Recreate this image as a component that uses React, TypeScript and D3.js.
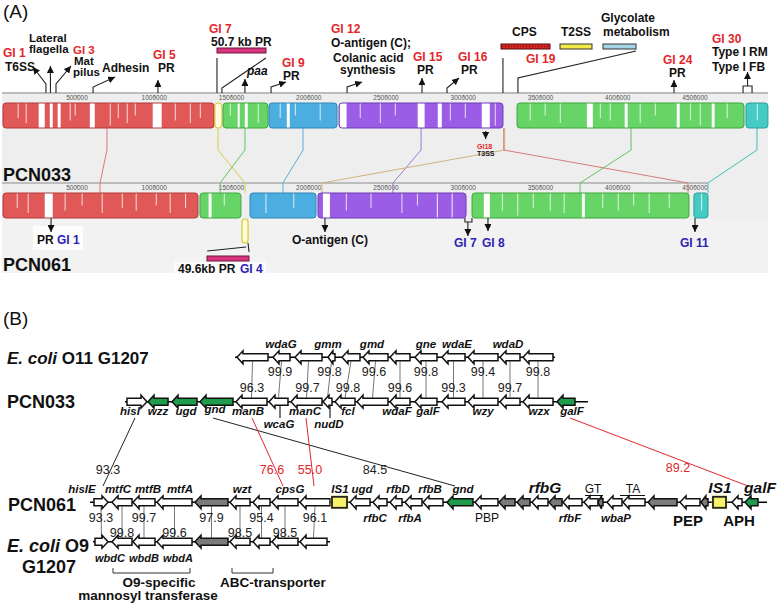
import React from "react";
import * as d3 from "d3";

// ================= PANEL A DATA (genome coordinates, bp) =================
const rulerTicks = [500000, 1000000, 1500000, 2000000, 2500000, 3000000, 3500000, 4000000, 4500000];

const pcn033Blocks = [
  { lcb: "red", start: 21000, end: 1387000 },
  { lcb: "yellow", start: 1393000, end: 1438000 },
  { lcb: "green", start: 1445000, end: 1736000 },
  { lcb: "blue", start: 1743000, end: 2183000 },
  { lcb: "purple", start: 2196000, end: 3257000 },
  { lcb: "green2", start: 3348000, end: 4817000 },
  { lcb: "teal", start: 4830000, end: 4972000 },
];
const pcn061Blocks = [
  { lcb: "red", start: 21000, end: 1283000 },
  { lcb: "green", start: 1296000, end: 1561000 },
  { lcb: "blue", start: 1620000, end: 2047000 },
  { lcb: "purple", start: 2060000, end: 3018000 },
  { lcb: "green2", start: 3057000, end: 4461000 },
  { lcb: "teal", start: 4493000, end: 4584000 },
];
const pcn061Inverted = [{ lcb: "yellow", start: 1568000, end: 1607000 }];

// LCB anchor pairs (PCN033 bp -> PCN061 bp)
const lcbLinks = [
  { lcb: "red", a: 694000, b: 649000 },
  { lcb: "yellow", a: 1413000, b: 1587000 },
  { lcb: "green", a: 1587000, b: 1426000 },
  { lcb: "blue", a: 1963000, b: 1833000 },
  { lcb: "purple", a: 2727000, b: 2545000 },
  { lcb: "tan", a: 3268000, b: 2086000 },
  { lcb: "red", a: 3262000, b: 4455000 },
  { lcb: "green2", a: 4086000, b: 3756000 },
  { lcb: "teal", a: 4901000, b: 4584000 },
];

// similarity-profile drops (bp start, bp length, depth 0..1)
const pcn033Drops = [
  [252000, 39000, 1], [324000, 19000, 1], [375000, 19000, 1], [583000, 32000, 1], [990000, 58000, 1],
  [1540000, 13000, 1], [1586000, 19000, 1], [1858000, 19000, 1], [2200000, 45000, 1], [2705000, 45000, 1],
  [2835000, 26000, 1], [3120000, 52000, 1], [3800000, 39000, 1], [4045000, 19000, 1], [4382000, 19000, 1],
  [4608000, 19000, 1], [4820000, 12000, 1],
  [116000, 6000, 0.6], [168000, 6000, 0.8], [453000, 6000, 0.7], [485000, 6000, 0.5], [712000, 6000, 0.9],
  [764000, 6000, 0.6], [822000, 6000, 0.8], [874000, 6000, 0.5], [1133000, 6000, 0.7], [1230000, 6000, 0.8],
  [1295000, 6000, 0.6], [1489000, 6000, 0.5], [1670000, 6000, 0.8], [1812000, 6000, 0.6], [1910000, 6000, 0.5],
  [2071000, 6000, 0.7], [2330000, 6000, 0.6], [2460000, 6000, 0.8], [2557000, 6000, 0.5], [2913000, 6000, 0.7],
  [3010000, 6000, 0.6], [3204000, 6000, 0.9], [3430000, 6000, 0.7], [3527000, 6000, 0.5], [3625000, 6000, 0.8],
  [3884000, 6000, 0.6], [3948000, 6000, 0.7], [4142000, 6000, 0.8], [4240000, 6000, 0.5], [4467000, 6000, 0.7],
  [4531000, 6000, 0.9], [4705000, 6000, 0.6], [4900000, 6000, 0.7],
];
const pcn061Drops = [
  [291000, 52000, 1], [1352000, 19000, 1], [2092000, 45000, 1], [2829000, 6000, 1], [2925000, 6000, 1],
  [3133000, 39000, 1], [3768000, 19000, 1], [4478000, 13000, 1],
  [110000, 6000, 0.6], [181000, 6000, 0.8], [420000, 6000, 0.7], [530000, 6000, 0.5], [660000, 6000, 0.8],
  [790000, 6000, 0.6], [880000, 6000, 0.7], [1010000, 6000, 0.5], [1100000, 6000, 0.8], [1200000, 6000, 0.6],
  [1450000, 6000, 0.5], [1720000, 6000, 0.8], [1900000, 6000, 0.6], [2240000, 6000, 0.7], [2400000, 6000, 0.6],
  [2600000, 6000, 0.8], [2700000, 6000, 0.5], [3250000, 6000, 0.7], [3350000, 6000, 0.9], [3450000, 6000, 0.6],
  [3560000, 6000, 0.7], [3650000, 6000, 0.8], [3900000, 6000, 0.6], [4000000, 6000, 0.7], [4100000, 6000, 0.5],
  [4200000, 6000, 0.8], [4330000, 6000, 0.6], [4540000, 6000, 0.7],
];

// ================= PANEL B DATA (kb) =================
const o11Genes = [
  { name: "", start: 14.7, end: 17.8, strand: -1, kind: "white" },
  { name: "wdaG", start: 18.3, end: 20.0, strand: -1, kind: "white" },
  { name: "", start: 20.5, end: 23.2, strand: -1, kind: "white" },
  { name: "gmm", start: 23.8, end: 24.5, strand: -1, kind: "white" },
  { name: "", start: 25.2, end: 27.0, strand: -1, kind: "white" },
  { name: "gmd", start: 27.3, end: 29.8, strand: -1, kind: "white" },
  { name: "", start: 30.0, end: 32.0, strand: -1, kind: "white" },
  { name: "gne", start: 32.5, end: 34.7, strand: -1, kind: "white" },
  { name: "wdaE", start: 35.2, end: 37.5, strand: -1, kind: "white" },
  { name: "", start: 37.8, end: 40.8, strand: -1, kind: "white" },
  { name: "wdaD", start: 41.0, end: 43.0, strand: -1, kind: "white" },
  { name: "", start: 43.3, end: 46.3, strand: -1, kind: "white" },
];
const o11Span = [14.5, 46.5];
const o11Labels = [
  { text: "wdaG", at: 19.1 }, { text: "gmm", at: 23.8 }, { text: "gmd", at: 28.2 },
  { text: "gne", at: 33.6 }, { text: "wdaE", at: 36.7 }, { text: "wdaD", at: 41.8 },
];

const pcn033Genes = [
  { name: "hisI", start: 3.7, end: 5.7, strand: 1, kind: "white" },
  { name: "wzz", start: 5.8, end: 7.8, strand: -1, kind: "green" },
  { name: "ugd", start: 8.2, end: 10.7, strand: -1, kind: "green" },
  { name: "gnd", start: 11.0, end: 14.3, strand: -1, kind: "green" },
  { name: "manB", start: 14.6, end: 17.7, strand: -1, kind: "white" },
  { name: "wcaG", start: 17.9, end: 19.8, strand: -1, kind: "white" },
  { name: "manC", start: 20.1, end: 23.2, strand: -1, kind: "white" },
  { name: "nudD", start: 23.3, end: 24.2, strand: -1, kind: "white" },
  { name: "fcl", start: 24.5, end: 26.5, strand: -1, kind: "white" },
  { name: "", start: 26.7, end: 29.8, strand: -1, kind: "white" },
  { name: "wdaF", start: 30.0, end: 32.0, strand: -1, kind: "white" },
  { name: "galF", start: 32.5, end: 34.7, strand: -1, kind: "white" },
  { name: "", start: 35.2, end: 37.5, strand: -1, kind: "white" },
  { name: "wzy", start: 37.8, end: 40.8, strand: -1, kind: "white" },
  { name: "", start: 41.0, end: 43.0, strand: -1, kind: "white" },
  { name: "wzx", start: 43.3, end: 46.3, strand: -1, kind: "white" },
  { name: "galF", start: 46.7, end: 48.5, strand: -1, kind: "green" },
];
const pcn033Span = [3.5, 49.8];
// indices of PCN033 genes matched to O11 genes
const o11Match = [4, 5, 6, 7, 8, 9, 10, 11, 12, 13, 14, 15];
const o11Identity = [96.3, 99.9, 99.7, 99.8, 99.8, 99.6, 99.6, 99.8, 99.3, 99.4, 99.7, 99.8];

const pcn033Labels = [
  { text: "hisI", at: 4.0, row: 0 }, { text: "wzz", at: 6.8, row: 0 }, { text: "ugd", at: 9.6, row: 0 },
  { text: "gnd", at: 12.5, row: -1 }, { text: "manB", at: 15.8, row: 0 }, { text: "wcaG", at: 18.9, row: 1 },
  { text: "manC", at: 21.5, row: 0 }, { text: "nudD", at: 23.9, row: 1 }, { text: "fcl", at: 25.8, row: 0 },
  { text: "wdaF", at: 30.7, row: 0 }, { text: "galF", at: 33.8, row: 0 }, { text: "wzy", at: 39.3, row: 0 },
  { text: "wzx", at: 44.9, row: 0 }, { text: "galF", at: 48.2, row: 0 },
];
const pcn033Leaders = [19.0, 24.0];

const pcn061Genes = [
  { name: "hisIE", start: 0.4, end: 1.8, strand: 1, kind: "white" },
  { name: "mtfC", start: 2.2, end: 4.2, strand: -1, kind: "white" },
  { name: "mtfB", start: 4.3, end: 6.5, strand: -1, kind: "white" },
  { name: "mtfA", start: 6.7, end: 10.2, strand: -1, kind: "white" },
  { name: "", start: 10.5, end: 13.8, strand: -1, kind: "gray" },
  { name: "wzt", start: 14.0, end: 16.0, strand: -1, kind: "white" },
  { name: "", start: 16.3, end: 18.0, strand: -1, kind: "white" },
  { name: "cpsG", start: 18.2, end: 20.8, strand: -1, kind: "white" },
  { name: "", start: 21.0, end: 24.0, strand: -1, kind: "white" },
  { name: "IS1", start: 24.2, end: 25.7, strand: 0, kind: "is" },
  { name: "ugd", start: 26.0, end: 28.0, strand: -1, kind: "white" },
  { name: "rfbC", start: 28.3, end: 29.7, strand: -1, kind: "white" },
  { name: "rfbD", start: 30.0, end: 31.2, strand: -1, kind: "white" },
  { name: "rfbA", start: 31.5, end: 33.2, strand: -1, kind: "white" },
  { name: "rfbB", start: 33.3, end: 35.3, strand: -1, kind: "white" },
  { name: "gnd", start: 35.7, end: 38.3, strand: -1, kind: "green" },
  { name: "PBP", start: 38.5, end: 40.8, strand: -1, kind: "white" },
  { name: "", start: 40.9, end: 42.5, strand: -1, kind: "gray" },
  { name: "", start: 42.7, end: 44.0, strand: -1, kind: "gray" },
  { name: "", start: 44.2, end: 45.8, strand: -1, kind: "white" },
  { name: "", start: 45.9, end: 47.2, strand: -1, kind: "gray" },
  { name: "rfbF", start: 47.3, end: 49.2, strand: -1, kind: "white" },
  { name: "GT", start: 49.4, end: 50.8, strand: -1, kind: "white" },
  { name: "", start: 50.8, end: 51.3, strand: -1, kind: "gray" },
  { name: "wbaP", start: 51.7, end: 53.2, strand: -1, kind: "white" },
  { name: "TA", start: 53.3, end: 55.5, strand: -1, kind: "white" },
  { name: "", start: 55.8, end: 58.7, strand: -1, kind: "gray" },
  { name: "PEP", start: 59.0, end: 61.0, strand: -1, kind: "white" },
  { name: "", start: 61.1, end: 61.8, strand: -1, kind: "gray" },
  { name: "IS1", start: 62.3, end: 63.6, strand: 0, kind: "is" },
  { name: "APH", start: 64.2, end: 65.2, strand: -1, kind: "white" },
  { name: "galF", start: 65.5, end: 66.8, strand: -1, kind: "green" },
];
const pcn061Span = [0.0, 67.7];

const pcn061Labels = [
  { text: "hisIE", at: -0.8, row: -1, style: "gene" }, { text: "mtfC", at: 2.8, row: -1, style: "gene" },
  { text: "mtfB", at: 5.8, row: -1, style: "gene" }, { text: "mtfA", at: 9.0, row: -1, style: "gene" },
  { text: "wzt", at: 15.2, row: -1, style: "gene" }, { text: "cpsG", at: 20.0, row: -1, style: "gene" },
  { text: "IS1", at: 25.0, row: -1, style: "gene" }, { text: "ugd", at: 27.2, row: -1, style: "gene" },
  { text: "rfbD", at: 30.8, row: -1, style: "gene" }, { text: "rfbB", at: 34.0, row: -1, style: "gene" },
  { text: "gnd", at: 37.3, row: -1, style: "gene" }, { text: "rfbG", at: 45.5, row: -1, style: "bigGene" },
  { text: "GT", at: 50.3, row: -1, style: "plain" }, { text: "TA", at: 54.3, row: -1, style: "plain" },
  { text: "IS1", at: 63.0, row: -1, style: "bigGene" }, { text: "galF", at: 67.0, row: -1, style: "bigGene" },
  { text: "rfbC", at: 28.5, row: 1, style: "gene" }, { text: "rfbA", at: 32.0, row: 1, style: "gene" },
  { text: "PBP", at: 39.7, row: 1, style: "plain" }, { text: "rfbF", at: 48.0, row: 1, style: "gene" },
  { text: "wbaP", at: 52.6, row: 1, style: "gene" }, { text: "PEP", at: 59.8, row: 1, style: "big" },
  { text: "APH", at: 64.9, row: 1, style: "big" },
];
const pcn061Brackets = [[49.5, 51.3], [53.0, 55.5]];

const o9Genes = [
  { name: "", start: 0.5, end: 1.8, strand: 1, kind: "white" },
  { name: "wbdC", start: 2.2, end: 4.2, strand: -1, kind: "white" },
  { name: "wbdB", start: 4.3, end: 6.5, strand: -1, kind: "white" },
  { name: "wbdA", start: 6.7, end: 10.2, strand: -1, kind: "white" },
  { name: "", start: 10.5, end: 13.8, strand: -1, kind: "gray" },
  { name: "", start: 14.0, end: 16.0, strand: -1, kind: "white" },
  { name: "", start: 16.3, end: 18.0, strand: -1, kind: "white" },
  { name: "", start: 18.2, end: 20.8, strand: -1, kind: "white" },
  { name: "", start: 21.0, end: 23.7, strand: -1, kind: "white" },
];
const o9Span = [0.3, 24.0];
const o9Labels = [{ text: "wbdC", at: 2.0 }, { text: "wbdB", at: 5.4 }, { text: "wbdA", at: 8.8 }];
const o9Identity = [93.3, 99.8, 99.7, 99.6, 97.9, 98.5, 95.4, 98.5, 96.1];

const crossLinks = [
  { a: 4.5, b: 1.3, value: "93.3", red: false, labelAt: 1.8 },
  { a: 12.3, b: 36.5, value: "84.5", red: false, labelAt: 28.5 },
  { a: 16.2, b: 19.3, value: "76.6", red: true, labelAt: 18.2 },
  { a: 21.6, b: 22.4, value: "55.0", red: true, labelAt: 22.0 },
  { a: 48.0, b: 65.8, value: "89.2", red: true, labelAt: 58.8 },
];

const clusterBrackets = [
  { from: 2.3, to: 10.0, lines: ["O9-specific", "mannosyl transferase"], at: [6.9, 5.8] },
  { from: 14.2, to: 18.3, lines: ["ABC-transporter"], at: [18.3] },
];

// ================= STYLE =================
const FONT = "'Liberation Sans', Arial, Helvetica, sans-serif";
const RED = "#e3262b";
const BLUE = "#2d22b4";
const lcbFill: Record<string, string> = {
  red: "#e05858", yellow: "#fffbe0", green: "#66d466", blue: "#4caee0",
  purple: "#9b5de6", green2: "#66d466", teal: "#45cbc3", tan: "#d8b880",
};
const lcbStroke: Record<string, string> = {
  red: "#b23a3a", yellow: "#d6ca2a", green: "#3ea83e", blue: "#2f86b8",
  purple: "#6d3bb5", green2: "#3ea83e", teal: "#2a9f98", tan: "#b09060",
};
const lcbLine: Record<string, string> = {
  red: "#d97a7a", yellow: "#d6cf45", green: "#62c462", blue: "#5aaed8",
  purple: "#9c7ad8", green2: "#62c462", teal: "#44bdb5", tan: "#cfb47e",
};
const geneFill: Record<string, string> = { white: "#ffffff", green: "#1f9b4c", gray: "#7b7b7b" };

const xA = d3.scaleLinear().domain([0, 5000000]).range([-0.25, 772.25]);
const xB = d3.scaleLinear().domain([0, 68]).range([90, 770]);

function geneArrow(x0: number, x1: number, y: number, strand: number) {
  const h = 3.5, H = 6.5;
  const hl = Math.min(6, (x1 - x0) * 0.7);
  if (strand < 0) {
    return `M${x0},${y}L${x0 + hl},${y - H}L${x0 + hl},${y - h}L${x1},${y - h}L${x1},${y + h}L${x0 + hl},${y + h}L${x0 + hl},${y + H}Z`;
  }
  return `M${x1},${y}L${x1 - hl},${y - H}L${x1 - hl},${y - h}L${x0},${y - h}L${x0},${y + h}L${x1 - hl},${y + h}L${x1 - hl},${y + H}Z`;
}

function GeneRow({ genes, span, y }: { genes: any[]; span: number[]; y: number }) {
  return (
    <g>
      <line x1={xB(span[0])} x2={xB(span[1])} y1={y} y2={y} stroke="#000" strokeWidth={1.6} />
      {genes.map((g, i) =>
        g.kind === "is" ? (
          <g key={i}>
            <rect x={xB(g.start) - 1.5} y={y - 7} width={xB(g.end) - xB(g.start) + 3} height={14} fill="#f3ec4a" opacity={0.5} />
            <rect x={xB(g.start)} y={y - 5.5} width={xB(g.end) - xB(g.start)} height={11} fill="#f8f268" stroke="#222" strokeWidth={1.8} />
          </g>
        ) : (
          <path key={i} d={geneArrow(xB(g.start), xB(g.end), y, g.strand)} fill={geneFill[g.kind]} stroke="#111" strokeWidth={1.5} strokeLinejoin="miter" />
        )
      )}
    </g>
  );
}

function Block({ b, top, h, drops }: any) {
  const x0 = xA(b.start), x1 = xA(b.end);
  const id = `clip-${b.lcb}-${top}-${Math.round(b.start)}`;
  const inside = drops.filter((d: number[]) => d[0] >= b.start && d[0] + d[1] <= b.end);
  return (
    <g>
      <clipPath id={id}><rect x={x0} y={top} width={x1 - x0} height={h} rx={3} /></clipPath>
      <rect x={x0} y={top} width={x1 - x0} height={h} rx={3} fill={lcbFill[b.lcb]} />
      <g clipPath={`url(#${id})`}>
        {inside.map((d: number[], i: number) => (
          <rect key={i} x={xA(d[0])} y={top} width={Math.max(0.8, xA(d[0] + d[1]) - xA(d[0]))} height={d[2] >= 1 ? h : h * d[2]} fill="#ffffff" opacity={d[2] >= 1 ? 1 : 0.85} />
        ))}
      </g>
      <rect x={x0} y={top} width={x1 - x0} height={h} rx={3} fill="none" stroke={lcbStroke[b.lcb]} strokeWidth={1} />
    </g>
  );
}

type Txt = { t: string; x: number; y: number; c?: string; s?: number; w?: string; i?: boolean; a?: string };
const topTexts: Txt[] = [
  { t: "GI 1", x: 3, y: 57, c: RED }, { t: "T6SS", x: 5, y: 71 },
  { t: "Lateral", x: 29, y: 42, s: 11.5 }, { t: "flagella", x: 29, y: 53, s: 11.5 },
  { t: "GI 3", x: 73, y: 54, c: RED, s: 11.5 }, { t: "Mat", x: 74, y: 65, s: 11.5 }, { t: "pilus", x: 73, y: 76, s: 11.5 },
  { t: "Adhesin", x: 102, y: 72 },
  { t: "GI 5", x: 153, y: 59, c: RED }, { t: "PR", x: 158, y: 72 },
  { t: "GI 7", x: 209, y: 33, c: RED }, { t: "50.7 kb PR", x: 211, y: 46 },
  { t: "paa", x: 247, y: 75, i: true },
  { t: "GI 9", x: 282, y: 67, c: RED }, { t: "PR", x: 283, y: 80 },
  { t: "GI 12", x: 331, y: 33, c: RED }, { t: "O-antigen (C);", x: 331, y: 47 },
  { t: "Colanic acid", x: 333, y: 62 }, { t: "synthesis", x: 340, y: 74 },
  { t: "GI 15", x: 413, y: 61, c: RED }, { t: "PR", x: 417, y: 74 },
  { t: "GI 16", x: 458, y: 61, c: RED }, { t: "PR", x: 461, y: 74 },
  { t: "CPS", x: 512, y: 36 }, { t: "T2SS", x: 561, y: 36 },
  { t: "Glycolate", x: 601, y: 22 }, { t: "metabolism", x: 603, y: 36 },
  { t: "GI 19", x: 526, y: 63, c: RED },
  { t: "GI 24", x: 663, y: 64, c: RED }, { t: "PR", x: 669, y: 77 },
  { t: "GI 30", x: 712, y: 43, c: RED }, { t: "Type I RM", x: 712, y: 56 }, { t: "Type I FB", x: 712, y: 71 },
  { t: "PR", x: 37, y: 244 }, { t: "GI 1", x: 57, y: 244, c: BLUE },
  { t: "O-antigen (C)", x: 292, y: 244 },
  { t: "49.6kb PR", x: 178, y: 273 }, { t: "GI 4", x: 240, y: 273, c: BLUE },
  { t: "GI 7", x: 454, y: 247, c: BLUE }, { t: "GI 8", x: 482, y: 247, c: BLUE }, { t: "GI 11", x: 680, y: 247, c: BLUE },
  { t: "GI18", x: 477, y: 149, c: RED, s: 7 }, { t: "T3SS", x: 477, y: 156, s: 7 },
];

// callout geometry: polylines in px ("arrow" gets an arrowhead at the end)
const callouts: { bp: number; row: "up" | "down"; pts: number[][]; arrow: boolean }[] = [
  { bp: 299000, row: "up", pts: [[0, 0], [0, -9], [-13, -26]], arrow: true },
  { bp: 328000, row: "up", pts: [[0, 0], [0, -27]], arrow: true },
  { bp: 364000, row: "up", pts: [[0, 0], [0, -9], [15, -27]], arrow: true },
  { bp: 604000, row: "up", pts: [[0, 0], [0, -6], [22, -16]], arrow: true },
  { bp: 1024000, row: "up", pts: [[0, 0], [0, -13]], arrow: true },
  { bp: 1406000, row: "up", pts: [[0, 0], [0, -35]], arrow: false },
  { bp: 1438000, row: "up", pts: [[0, 0], [0, -5], [44, -35]], arrow: false },
  { bp: 1587000, row: "up", pts: [[0, 0], [0, -14]], arrow: true },
  { bp: 1756000, row: "up", pts: [[0, 0], [0, -6], [15, -11]], arrow: true },
  { bp: 2248000, row: "up", pts: [[0, 0], [0, -6], [15, -11]], arrow: true },
  { bp: 2733000, row: "up", pts: [[0, 0], [0, -15]], arrow: true },
  { bp: 2895000, row: "up", pts: [[0, 0], [0, -5], [12, -15]], arrow: true },
  { bp: 3257000, row: "up", pts: [[0, 0], [0, -35]], arrow: false },
  { bp: 3354000, row: "up", pts: [[0, 0], [0, -15], [118, -42]], arrow: false },
  { bp: 4364000, row: "up", pts: [[0, 0], [0, -13]], arrow: true },
  { bp: 4811000, row: "up", pts: [[0, 0], [0, -7], [9, -7], [9, 0]], arrow: false },
  { bp: 4840000, row: "up", pts: [[0, -7], [0, -21]], arrow: true },
  { bp: 332000, row: "down", pts: [[0, 0], [0, 14]], arrow: true },
  { bp: 2105000, row: "down", pts: [[0, 0], [0, 14]], arrow: true },
  { bp: 3011000, row: "down", pts: [[0, 0], [0, 4], [7, 4], [7, 0]], arrow: false },
  { bp: 3030000, row: "down", pts: [[0, 4], [0, 18]], arrow: true },
  { bp: 3160000, row: "down", pts: [[0, 0], [0, 13]], arrow: true },
  { bp: 4500000, row: "down", pts: [[0, 0], [0, 14]], arrow: true },
  { bp: 1607000, row: "down", pts: [[0, 25], [1, 34]], arrow: false },
  { bp: 1595000, row: "down", pts: [[0, 29], [-39, 33]], arrow: false },
  { bp: 3145000, row: "down", pts: [[0, -87], [0, -79]], arrow: true },
];

export default function App() {
  React.useLayoutEffect(() => { document.body.style.margin = "0"; }, []);
  const upTop = 103, lowTop = 193, bh = 25;
  const Y = { o11: 357.3, p033: 401.7, p061: 502.3, o9: 541.7 };
  const GL = 11.5;
  const txt = (d: Txt, k: number) => (
    <text key={k} x={d.x} y={d.y} fill={d.c || "#111"} fontSize={d.s || 12} fontWeight={d.w || "bold"}
      fontStyle={d.i ? "italic" : "normal"} textAnchor={d.a || "start"}>{d.t}</text>
  );
  const labelStyle = (s: string) => {
    switch (s) {
      case "bigGene": return { fontSize: 15.5, fontWeight: "bold", fontStyle: "italic" };
      case "plain": return { fontSize: 12, fontWeight: "normal", fontStyle: "normal" };
      case "big": return { fontSize: 15, fontWeight: "bold", fontStyle: "normal" };
      default: return { fontSize: GL, fontWeight: "bold", fontStyle: "italic" };
    }
  };
  return (
    <svg width={778} height={606} style={{ position: "absolute", left: 0, top: 0, background: "#fff" }} fontFamily={FONT}>
      <defs>
        <marker id="ah" viewBox="0 0 10 10" refX={10} refY={5} markerWidth={7} markerHeight={7} markerUnits="userSpaceOnUse" orient="auto">
          <path d="M0,0L10,5L0,10Z" fill="#111" />
        </marker>
        <pattern id="dots" width={3} height={3} patternUnits="userSpaceOnUse">
          <rect width={3} height={3} fill="#d42424" />
          <rect x={1} y={1} width={1} height={1} fill="#6a0a0a" />
        </pattern>
      </defs>

      {/* ============ PANEL A ============ */}
      <text x={3} y={18} fontSize={19} fill="#111">(A)</text>
      <rect x={2} y={92} width={766} height={181} fill="#eeeeee" />
      <rect x={2} y={219} width={766} height={54} fill="#f2f2f2" />
      <rect x={33} y={226} width={50} height={24} fill="#ffffff" opacity={0.8} />
      <rect x={174} y={262} width={92} height={14} fill="#ffffff" opacity={0.7} />
      <line x1={2} x2={768} y1={93} y2={93} stroke="#bdbdbd" strokeWidth={2} />
      <line x1={2} x2={708} y1={183} y2={183} stroke="#bdbdbd" strokeWidth={2} />

      {[{ y: 100, t: 95 }, { y: 190, t: 185 }].map((r, ri) => (
        <g key={ri}>
          {rulerTicks.map((v) => (
            <g key={v}>
              <line x1={xA(v)} x2={xA(v)} y1={r.t} y2={r.t + 2.5} stroke="#777" strokeWidth={0.8} />
              <text x={xA(v)} y={r.y} fontSize={6.5} fill="#555" textAnchor="middle">{v}</text>
            </g>
          ))}
        </g>
      ))}

      {/* LCB connecting lines */}
      {lcbLinks.map((l, i) => (
        <polyline key={i} fill="none" stroke={lcbLine[l.lcb]} strokeWidth={1}
          points={`${xA(l.a)},${upTop + bh} ${xA(l.a)},150 ${xA(l.b)},183 ${xA(l.b)},${lowTop}`} />
      ))}

      {pcn033Blocks.map((b, i) => <Block key={"u" + i} b={b} top={upTop} h={bh} drops={pcn033Drops} />)}
      {pcn061Blocks.map((b, i) => <Block key={"l" + i} b={b} top={lowTop} h={bh} drops={pcn061Drops} />)}
      {pcn061Inverted.map((b, i) => (
        <rect key={"inv" + i} x={xA(b.start)} y={lowTop + bh + 1} width={xA(b.end) - xA(b.start)} height={24} rx={3}
          fill={lcbFill[b.lcb]} stroke={lcbStroke[b.lcb]} strokeWidth={1.2} />
      ))}

      <text x={3} y={181} fontSize={18} fontWeight="bold" fill="#111">PCN033</text>
      <text x={3} y={271} fontSize={18} fontWeight="bold" fill="#111">PCN061</text>

      {/* feature bars */}
      <rect x={217} y={48} width={49} height={5} fill="#d9327f" stroke="#6a1838" strokeWidth={1} />
      <rect x={207} y={256} width={42} height={5} fill="#d9327f" stroke="#6a1838" strokeWidth={1} />
      <rect x={501} y={44} width={49} height={5} fill="url(#dots)" stroke="#5a0a0a" strokeWidth={1} />
      <rect x={560} y={44} width={32} height={5} fill="#f3ea45" stroke="#333" strokeWidth={1} />
      <rect x={603} y={44} width={33} height={5} fill="#a6d6e6" stroke="#333" strokeWidth={1} />

      {callouts.map((c, i) => {
        const bx = xA(c.bp), by = c.row === "up" ? 93 : 218;
        return (
          <polyline key={i} fill="none" stroke="#222" strokeWidth={1.1}
            points={c.pts.map((p) => `${bx + p[0]},${by + p[1]}`).join(" ")}
            markerEnd={c.arrow ? "url(#ah)" : undefined} />
        );
      })}

      {topTexts.map(txt)}

      {/* ============ PANEL B ============ */}
      <text x={3} y={325} fontSize={19} fill="#111">(B)</text>
      <text x={7} y={364} fontSize={17} fontWeight="bold" fill="#111">
        <tspan fontStyle="italic">E. coli</tspan> O11 G1207
      </text>
      <text x={7} y={408} fontSize={18} fontWeight="bold" fill="#111">PCN033</text>
      <text x={8} y={511} fontSize={18} fontWeight="bold" fill="#111">PCN061</text>
      <text x={7} y={552} fontSize={18} fontWeight="bold" fill="#111">
        <tspan fontStyle="italic">E. coli</tspan> O9
      </text>
      <text x={22} y={573} fontSize={18} fontWeight="bold" fill="#111">G1207</text>

      {/* O11 <-> PCN033 identity */}
      {o11Genes.map((g, i) => {
        const pg = pcn033Genes[o11Match[i]];
        const xa = xB((g.start + g.end) / 2), xb = xB((pg.start + pg.end) / 2);
        const upper = i % 2 === 1;
        return (
          <g key={"oi" + i}>
            <line x1={xa} x2={xb} y1={Y.o11 + 4} y2={Y.p033 - 4} stroke="#777" strokeWidth={1} />
            <text x={(xa + xb) / 2} y={upper ? 375.5 : 391.5} fontSize={12.5} fill="#222" textAnchor="middle">{o11Identity[i].toFixed(1)}</text>
          </g>
        );
      })}
      {/* PCN061 <-> O9 identity */}
      {o9Genes.map((g, i) => {
        const pg = pcn061Genes[i];
        const xa = xB((pg.start + pg.end) / 2), xb = xB((g.start + g.end) / 2);
        const upper = i % 2 === 0;
        return (
          <g key={"o9" + i}>
            <line x1={xa} x2={xb} y1={Y.p061 + 4} y2={Y.o9 - 4} stroke="#777" strokeWidth={1} />
            <text x={xa} y={upper ? 521.5 : 536.5} fontSize={12.5} fill="#222" textAnchor="middle">{o9Identity[i].toFixed(1)}</text>
          </g>
        );
      })}

      {/* cross links PCN033 -> PCN061 */}
      {crossLinks.map((l, i) => (
        <g key={"cl" + i}>
          <line x1={xB(l.a)} y1={418} x2={xB(l.b)} y2={486} stroke={l.red ? RED : "#222"} strokeWidth={1} />
          <text x={xB(l.labelAt)} y={l.value === "89.2" ? 472 : 473.5} fontSize={12.5} fill={l.red ? RED : "#222"} textAnchor="middle">{l.value}</text>
        </g>
      ))}

      <GeneRow genes={o11Genes} span={o11Span} y={Y.o11} />
      <GeneRow genes={pcn033Genes} span={pcn033Span} y={Y.p033} />
      <GeneRow genes={pcn061Genes} span={pcn061Span} y={Y.p061} />
      <GeneRow genes={o9Genes} span={o9Span} y={Y.o9} />

      {/* O11 labels */}
      {o11Labels.map((l, i) => (
        <text key={"o11l" + i} x={xB(l.at)} y={348} fontSize={GL} fontWeight="bold" fontStyle="italic" textAnchor="middle" fill="#111">{l.text}</text>
      ))}
      {/* PCN033 labels */}
      {pcn033Labels.map((l, i) => (
        <text key={"p3l" + i} x={xB(l.at)} y={l.row === 1 ? 428 : l.row === -1 ? 412.5 : 415} fontSize={GL} fontWeight="bold" fontStyle="italic" textAnchor="middle" fill="#111">{l.text}</text>
      ))}
      {pcn033Leaders.map((k, i) => (
        <line key={"ld" + i} x1={xB(k)} x2={xB(k)} y1={Y.p033 + 4} y2={418} stroke="#111" strokeWidth={1.1} />
      ))}
      {/* PCN061 labels */}
      {pcn061Labels.map((l, i) => {
        const st = labelStyle(l.style);
        const y = l.row === -1 ? (l.style === "bigGene" ? 492.5 : 493) : (l.style === "big" ? 525.5 : 521.5);
        return (
          <text key={"p6l" + i} x={xB(l.at)} y={y} textAnchor="middle" fill="#111" {...(st as any)}>{l.text}</text>
        );
      })}
      {pcn061Brackets.map((b, i) => (
        <line key={"pb" + i} x1={xB(b[0])} x2={xB(b[1])} y1={495.5} y2={495.5} stroke="#111" strokeWidth={1} />
      ))}
      {/* O9 labels */}
      {o9Labels.map((l, i) => (
        <text key={"o9l" + i} x={xB(l.at)} y={562} fontSize={11} fontWeight="bold" fontStyle="italic" textAnchor="middle" fill="#111">{l.text}</text>
      ))}
      {clusterBrackets.map((b, i) => (
        <g key={"cb" + i}>
          <polyline fill="none" stroke="#333" strokeWidth={1}
            points={`${xB(b.from)},568 ${xB(b.from)},573 ${xB(b.to)},573 ${xB(b.to)},568`} />
          {b.lines.map((t, j) => (
            <text key={j} x={xB(b.at[j])} y={587 + j * 13} fontSize={13.5} fontWeight="bold" textAnchor="middle" fill="#111">{t}</text>
          ))}
        </g>
      ))}
    </svg>
  );
}
